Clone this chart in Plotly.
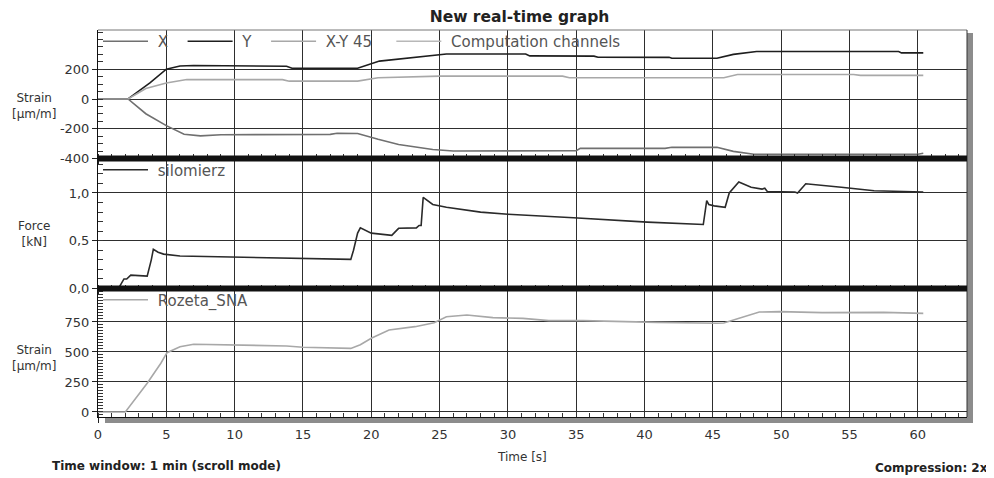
import plotly.graph_objects as go

# ---------------- data ----------------
# Top panel: strain channels [µm/m]
t_X = [0, 2.2, 3.5, 5.0, 6.3, 7.5, 9.0, 14.0, 17.0, 17.5, 19.0, 20.5, 22.0, 24.5, 26.0,
       35.0, 35.3, 41.5, 42.0, 45.3, 46.5, 48.0, 60.0, 60.4]
v_X = [0, 0, -99, -179, -237, -248, -240, -238, -238, -230, -232, -271, -306, -340, -350,
       -348, -332, -332, -325, -325, -352, -372, -372, -365]

t_Y = [0, 2.2, 3.0, 3.8, 5.0, 6.0, 7.0, 12.0, 13.8, 14.2, 19.0, 20.6, 22.5, 24.5, 25.5,
       31.3, 31.6, 36.3, 36.6, 41.8, 42.0, 45.3, 46.5, 48.2, 58.6, 58.8, 60.4]
v_Y = [0, 0, 55, 108, 200, 222, 225, 222, 220, 207, 207, 255, 272, 292, 303,
       303, 290, 288, 281, 280, 274, 274, 300, 319, 319, 310, 310]

t_XY45 = [0, 2.2, 3.5, 5.0, 6.5, 13.5, 14.0, 19.0, 20.5, 22.5, 25.0, 34.0, 34.5,
          45.8, 46.8, 55.3, 55.8, 60.4]
v_XY45 = [0, 0, 70, 108, 131, 130, 120, 120, 143, 148, 154, 154, 143,
          143, 165, 165, 159, 159]

# Middle panel: force [kN]
t_F = [0, 1.5, 1.9, 2.1, 2.4, 3.6, 3.9, 4.05, 4.4, 4.8, 6.0, 10.0, 15.0, 18.5, 18.7,
       19.0, 19.2, 20.0, 21.5, 22.0, 23.3, 23.5, 23.65, 23.8, 24.5, 25.5, 28.0, 30.0,
       34.8, 40.2, 44.3, 44.55, 44.7, 45.1, 45.9, 46.2, 46.9, 47.8, 48.6, 48.8, 49.0,
       49.7, 51.0, 51.2, 51.8, 54.4, 56.8, 60.4]
v_F = [0, 0, 0.10, 0.10, 0.14, 0.13, 0.30, 0.41, 0.38, 0.36, 0.34, 0.33, 0.32, 0.305, 0.40,
       0.58, 0.635, 0.58, 0.556, 0.63, 0.635, 0.66, 0.66, 0.954, 0.88, 0.85, 0.80, 0.777,
       0.74, 0.695, 0.67, 0.92, 0.88, 0.865, 0.85, 1.0, 1.114, 1.06, 1.04, 1.05, 1.014,
       1.01, 1.01, 1.0, 1.096, 1.06, 1.024, 1.01]

# Bottom panel: rosette strain [µm/m]
t_R = [0, 2.0, 3.6, 4.6, 5.05, 6.0, 7.0, 13.8, 15.0, 17.0, 18.5, 19.2, 20.0, 21.3, 23.2,
       24.6, 25.5, 27.0, 28.9, 31.1, 33.0, 35.5, 38.2, 40.9, 45.3, 45.8, 48.4, 49.9,
       53.0, 57.5, 60.4]
v_R = [0, 0, 239, 406, 494, 544, 564, 550, 540, 536, 530, 560, 614, 683, 711,
       744, 794, 808, 786, 780, 761, 761, 753, 747, 739, 741, 833, 836,
       828, 830, 822]

# tick labels
strain_top_ticks = [-400, -200, 0, 200]
strain_top_ticktext = ["-400", "-200", "0", "200"]
force_ticks = [0.0, 0.5, 1.0]
force_ticktext = ["0,0", "0,5", "1,0"]
strain_bot_ticks = [0, 250, 500, 750]
strain_bot_ticktext = ["0", "250", "500", "750"]

FONT = "DejaVu Sans"
GRID = "#2e2e2e"
TXT = "#333333"
NB = "\u00a0"
LW = 1.6


def lname(text, lead=1, trail=0):
    return NB * lead + text + NB * trail


fig = go.Figure()

fig.add_trace(go.Scatter(x=t_X, y=v_X, name=lname("X", 1, 2), mode="lines",
                         line=dict(color="#707070", width=LW),
                         xaxis="x", yaxis="y", legend="legend"))
fig.add_trace(go.Scatter(x=t_Y, y=v_Y, name=lname("Y", 1, 2), mode="lines",
                         line=dict(color="#1e1e1e", width=LW),
                         xaxis="x", yaxis="y", legend="legend"))
fig.add_trace(go.Scatter(x=t_XY45, y=v_XY45, name=lname("X-Y 45", 1, 3), mode="lines",
                         line=dict(color="#a8a8a8", width=LW),
                         xaxis="x", yaxis="y", legend="legend"))
fig.add_trace(go.Scatter(x=[None], y=[None], name=lname("Computation channels", 1, 0),
                         mode="lines", line=dict(color="#b8b8b8", width=LW),
                         xaxis="x", yaxis="y", legend="legend"))
fig.add_trace(go.Scatter(x=t_F, y=v_F, name=lname("silomierz"), mode="lines",
                         line=dict(color="#2a2a2a", width=LW),
                         xaxis="x2", yaxis="y2", legend="legend2"))
fig.add_trace(go.Scatter(x=t_R, y=v_R, name=lname("Rozeta_SNA"), mode="lines",
                         line=dict(color="#a8a8a8", width=LW),
                         xaxis="x3", yaxis="y3", legend="legend3"))

# The page body has an 8px margin: the figure sits at (8, 8) in the window.
OFF = 8
FIG_W, FIG_H = 994 - OFF, 478 - OFF
H = 387.0  # plot height in px (window y 30..417)
W = 869.0  # plot width in px (window x 98..967)
b1 = 0.668  # boundary panel1/panel2
b2 = 0.332  # boundary panel2/panel3

xcommon = dict(range=[0, 63.6], tick0=0, dtick=5, showgrid=True, gridcolor=GRID,
               gridwidth=1, zeroline=False, ticks="outside", ticklen=5, tickcolor="#222",
               minor=dict(tick0=0, dtick=1, ticks="inside", ticklen=4, tickcolor="#333",
                          showgrid=False),
               tickfont=dict(family=FONT, size=13, color=TXT))

ycommon = dict(showgrid=True, gridcolor=GRID, gridwidth=1, zeroline=False,
               ticks="outside", ticklen=5, tickcolor="#222",
               showline=True, linecolor="#111", linewidth=1,
               tickfont=dict(family=FONT, size=13, color=TXT))

legcommon = dict(orientation="h", x=0.0, xanchor="left", yanchor="top",
                 bgcolor="rgba(0,0,0,0)", borderwidth=0, itemwidth=45,
                 font=dict(family=FONT, size=15, color="#555"))

fig.update_layout(
    width=FIG_W, height=FIG_H,
    margin=dict(l=98 - OFF, r=FIG_W - (967 - OFF), t=30 - OFF, b=FIG_H - (417 - OFF)),
    paper_bgcolor="white", plot_bgcolor="white",
    font=dict(family=FONT, color=TXT),
    title=dict(text="<b>New real-time graph</b>", x=(519.5 - OFF) / FIG_W,
               xanchor="center", y=1 - (17 - OFF) / FIG_H, yanchor="middle",
               font=dict(family=FONT, size=15.5, color="#222")),
    xaxis=dict(xcommon, anchor="y", showticklabels=False, matches="x3"),
    xaxis2=dict(xcommon, anchor="y2", showticklabels=False, matches="x3"),
    xaxis3=dict(xcommon, anchor="y3", showticklabels=True, showline=True,
                linecolor="#111", linewidth=1),
    yaxis=dict(ycommon, domain=[b1, 1.0], range=[-400, 464], tickmode="array",
               tickvals=strain_top_ticks, ticktext=strain_top_ticktext,
               minor=dict(tick0=0, dtick=50, ticks="inside", ticklen=5, tickcolor="#333",
                          showgrid=False)),
    yaxis2=dict(ycommon, domain=[b2, b1], range=[0, 1.361], tickmode="array",
                tickvals=force_ticks, ticktext=force_ticktext,
                minor=dict(tick0=0, dtick=0.1, ticks="inside", ticklen=5, tickcolor="#333",
                           showgrid=False)),
    yaxis3=dict(ycommon, domain=[0, b2], range=[-42, 1029], tickmode="array",
                tickvals=strain_bot_ticks, ticktext=strain_bot_ticktext,
                minor=dict(tick0=0, dtick=25, ticks="inside", ticklen=5, tickcolor="#333",
                           showgrid=False)),
    legend=dict(legcommon, y=1.0 + 5 / H),
    legend2=dict(legcommon, y=b1 + 5 / H),
    legend3=dict(legcommon, y=b2 + 5 / H),
    showlegend=True,
)

shapes = [
    # white band under the legends (hides gridlines) in panels 1 and 3
    dict(type="rect", xref="paper", yref="paper", x0=0.001, x1=0.999,
         y0=1 - 18 / H, y1=1.0, fillcolor="white", line=dict(width=0), layer="between"),
    dict(type="rect", xref="paper", yref="paper", x0=0.001, x1=0.999,
         y0=b2 - 19 / H, y1=b2, fillcolor="white", line=dict(width=0), layer="between"),
    # right-hand and bottom drop shadow
    dict(type="rect", xref="paper", yref="paper", x0=1.0, x1=1 + 6 / W,
         y0=-6 / H, y1=1 - 3 / H, fillcolor="#8c8c8c", line=dict(width=0), layer="above"),
    dict(type="rect", xref="paper", yref="paper", x0=7 / W, x1=1 + 6 / W,
         y0=-6 / H, y1=-1 / H, fillcolor="#8c8c8c", line=dict(width=0), layer="above"),
    # top and right border
    dict(type="line", xref="paper", yref="paper", x0=0, x1=1, y0=1, y1=1,
         line=dict(color="#777", width=1), layer="above"),
    dict(type="line", xref="paper", yref="paper", x0=1, x1=1, y0=0, y1=1,
         line=dict(color="#333", width=1), layer="above"),
    # thick panel separators
    dict(type="line", xref="paper", yref="paper", x0=0, x1=1, y0=b1, y1=b1,
         line=dict(color="#111", width=6), layer="above"),
    dict(type="line", xref="paper", yref="paper", x0=0, x1=1, y0=b2, y1=b2,
         line=dict(color="#111", width=6), layer="above"),
]
fig.update_layout(shapes=shapes)


def px_x(px):
    return (px - 98) / W


def px_y(py):
    return (417 - py) / H


annotations = [
    dict(text="Strain<br>[µm/m]", x=px_x(34), y=px_y(106)),
    dict(text="Force<br>[kN]", x=px_x(34), y=px_y(234)),
    dict(text="Strain<br>[µm/m]", x=px_x(34), y=px_y(358)),
]
for a in annotations:
    a.update(xref="paper", yref="paper", xanchor="center", yanchor="middle",
             showarrow=False, font=dict(family=FONT, size=12, color=TXT))

annotations += [
    dict(text="Time [s]", x=px_x(522), y=px_y(457), xref="paper", yref="paper",
         xanchor="center", yanchor="middle", showarrow=False,
         font=dict(family=FONT, size=12, color=TXT)),
    dict(text="<b>Time window: 1 min (scroll mode)</b>", x=px_x(50), y=px_y(466),
         xref="paper", yref="paper", xanchor="left", yanchor="middle", showarrow=False,
         font=dict(family=FONT, size=12, color="#222")),
    dict(text="<b>Compression: 2x</b>", x=px_x(990), y=px_y(468),
         xref="paper", yref="paper", xanchor="right", yanchor="middle", showarrow=False,
         font=dict(family=FONT, size=12, color="#222")),
]
fig.update_layout(annotations=annotations)

fig.write_html("out.html")
